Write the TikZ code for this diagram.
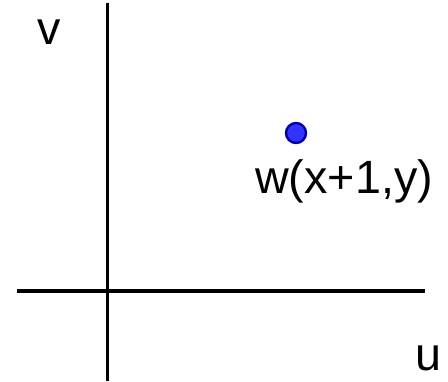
\documentclass[tikz,border=0pt]{standalone}
\usepackage{fontspec}
\setmainfont{Liberation Sans}
\usepackage{tikz}
\usetikzlibrary{positioning}

\begin{document}
\begin{tikzpicture}[x=0.75pt, y=-0.75pt,
  axisline/.style={line width=2.4pt, black},
  lbl/.style={inner sep=0pt, anchor=base west, font=\fontsize{35}{42}\selectfont},
  dot/.style={circle, draw={rgb,255:red,0;green,0;blue,160}, line width=1.8pt,
    fill={rgb,255:red,51;green,51;blue,255}, minimum size=15pt, inner sep=0pt}
]
\useasboundingbox (0,0) rectangle (448,381);
% axes
\coordinate (uL) at (17,291);
\coordinate (uR) at (425,291);
\coordinate (vT) at (107.5,3);
\coordinate (vB) at (107.5,381);
\draw[axisline] (uL) -- (uR);
\draw[axisline] (vT) -- (vB);
\node[lbl] (vlab) at (37,45) {v};
\node[lbl] (ulab) at (415,370) {u};
% the point
\node[dot] (w) at (296,133) {};
\node[lbl] (wlab) at (255,193) {w(x+1,y)};
\end{tikzpicture}
\end{document}
